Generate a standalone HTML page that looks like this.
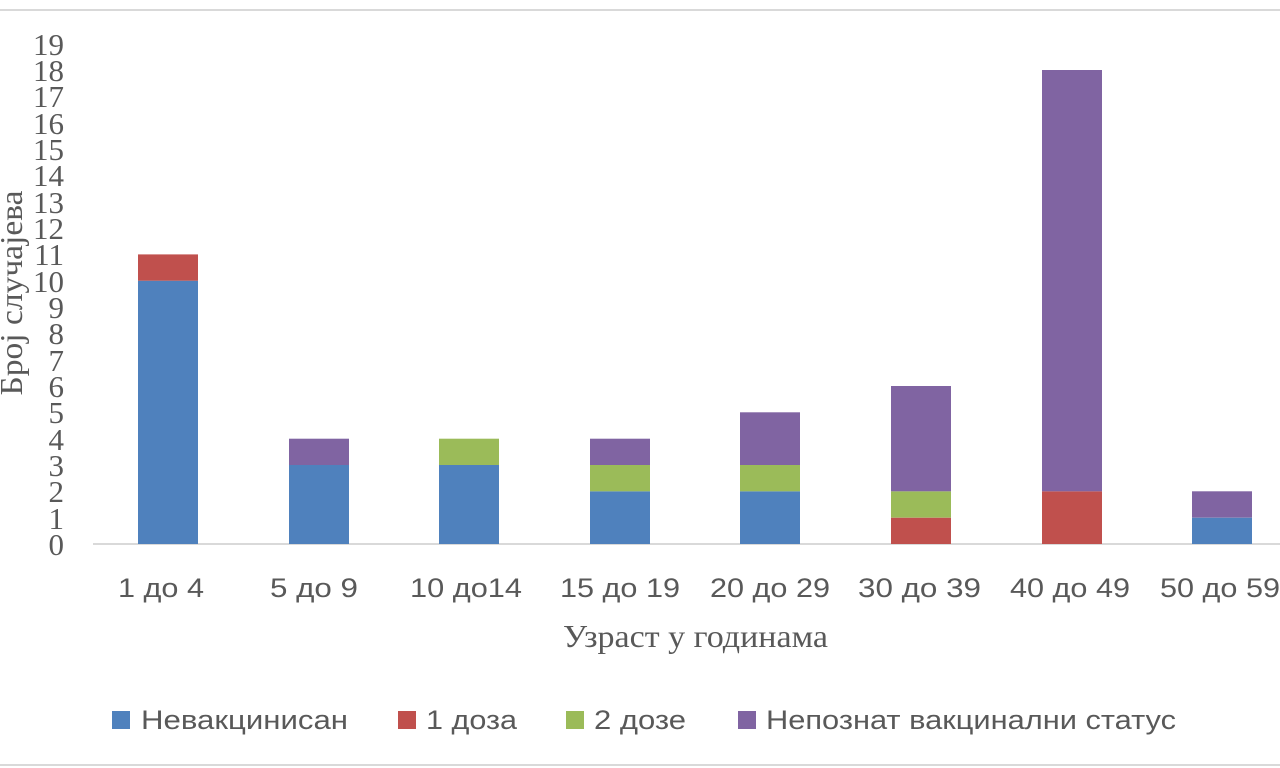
<!DOCTYPE html>
<html><head><meta charset="utf-8"><style>
html,body{margin:0;padding:0;background:#fff;}
svg{display:block;}
.s{font-family:"Liberation Serif",serif;fill:#595959;}
.a{font-family:"Liberation Sans",sans-serif;fill:#595959;}
</style></head><body>
<svg width="1280" height="768" viewBox="0 0 1280 768" xmlns="http://www.w3.org/2000/svg">
<rect width="1280" height="768" fill="#fff"/>
<line x1="0" y1="10" x2="1280" y2="10" stroke="#d9d9d9" stroke-width="2"/>
<line x1="0" y1="765" x2="1280" y2="765" stroke="#d9d9d9" stroke-width="2"/>
<g class="s" font-size="31" text-anchor="end">
<text x="64" y="555">0</text><text x="64" y="529">1</text><text x="64" y="502">2</text><text x="64" y="476">3</text><text x="64" y="450">4</text><text x="64" y="423">5</text><text x="64" y="397">6</text><text x="64" y="371">7</text><text x="64" y="344">8</text><text x="64" y="318">9</text><text x="64" y="292">10</text><text x="64" y="265">11</text><text x="64" y="239">12</text><text x="64" y="213">13</text><text x="64" y="186">14</text><text x="64" y="160">15</text><text x="64" y="134">16</text><text x="64" y="107">17</text><text x="64" y="81">18</text><text x="64" y="55">19</text>
</g>
<text class="s" font-size="32" text-anchor="middle" textLength="205" lengthAdjust="spacingAndGlyphs" transform="translate(22,293) rotate(-90)">Број случајева</text>
<line x1="93" y1="544" x2="1280" y2="544" stroke="#d9d9d9" stroke-width="2"/>
<g>
<rect x="138" y="280.7" width="60" height="263.3" fill="#4f81bd"/><rect x="138" y="254.4" width="60" height="26.3" fill="#c0504d"/>
<rect x="289" y="465" width="60" height="79" fill="#4f81bd"/><rect x="289" y="438.7" width="60" height="26.3" fill="#8064a2"/>
<rect x="439" y="465" width="60" height="79" fill="#4f81bd"/><rect x="439" y="438.7" width="60" height="26.3" fill="#9bbb59"/>
<rect x="590" y="491.3" width="60" height="52.7" fill="#4f81bd"/><rect x="590" y="465" width="60" height="26.3" fill="#9bbb59"/><rect x="590" y="438.7" width="60" height="26.3" fill="#8064a2"/>
<rect x="740" y="491.3" width="60" height="52.7" fill="#4f81bd"/><rect x="740" y="465" width="60" height="26.3" fill="#9bbb59"/><rect x="740" y="412.3" width="60" height="52.7" fill="#8064a2"/>
<rect x="891" y="517.7" width="60" height="26.3" fill="#c0504d"/><rect x="891" y="491.3" width="60" height="26.3" fill="#9bbb59"/><rect x="891" y="386" width="60" height="105.3" fill="#8064a2"/>
<rect x="1042" y="491.3" width="60" height="52.7" fill="#c0504d"/><rect x="1042" y="70" width="60" height="421.3" fill="#8064a2"/>
<rect x="1192" y="517.7" width="60" height="26.3" fill="#4f81bd"/><rect x="1192" y="491.3" width="60" height="26.3" fill="#8064a2"/>
</g>
<g class="a" font-size="27" lengthAdjust="spacingAndGlyphs">
<text x="118" y="597" textLength="86" lengthAdjust="spacingAndGlyphs">1 до 4</text>
<text x="270" y="597" textLength="88" lengthAdjust="spacingAndGlyphs">5 до 9</text>
<text x="410" y="597" textLength="112" lengthAdjust="spacingAndGlyphs">10 до14</text>
<text x="560" y="597" textLength="120" lengthAdjust="spacingAndGlyphs">15 до 19</text>
<text x="710" y="597" textLength="120" lengthAdjust="spacingAndGlyphs">20 до 29</text>
<text x="858" y="597" textLength="123" lengthAdjust="spacingAndGlyphs">30 до 39</text>
<text x="1010" y="597" textLength="120" lengthAdjust="spacingAndGlyphs">40 до 49</text>
<text x="1160" y="597" textLength="120" lengthAdjust="spacingAndGlyphs">50 до 59</text>
</g>
<text class="s" font-size="32" x="563" y="647" textLength="265" lengthAdjust="spacingAndGlyphs">Узраст у годинама</text>
<g class="a" font-size="27">
<rect x="112" y="711" width="18" height="18" fill="#4f81bd"/><text x="141" y="729" textLength="207" lengthAdjust="spacingAndGlyphs">Невакцинисан</text>
<rect x="398" y="711" width="18" height="18" fill="#c0504d"/><text x="426" y="729" textLength="91" lengthAdjust="spacingAndGlyphs">1 доза</text>
<rect x="566" y="711" width="18" height="18" fill="#9bbb59"/><text x="594" y="729" textLength="92" lengthAdjust="spacingAndGlyphs">2 дозе</text>
<rect x="738" y="711" width="18" height="18" fill="#8064a2"/><text x="766" y="729" textLength="410" lengthAdjust="spacingAndGlyphs">Непознат вакцинални статус</text>
</g>
</svg>
</body></html>
